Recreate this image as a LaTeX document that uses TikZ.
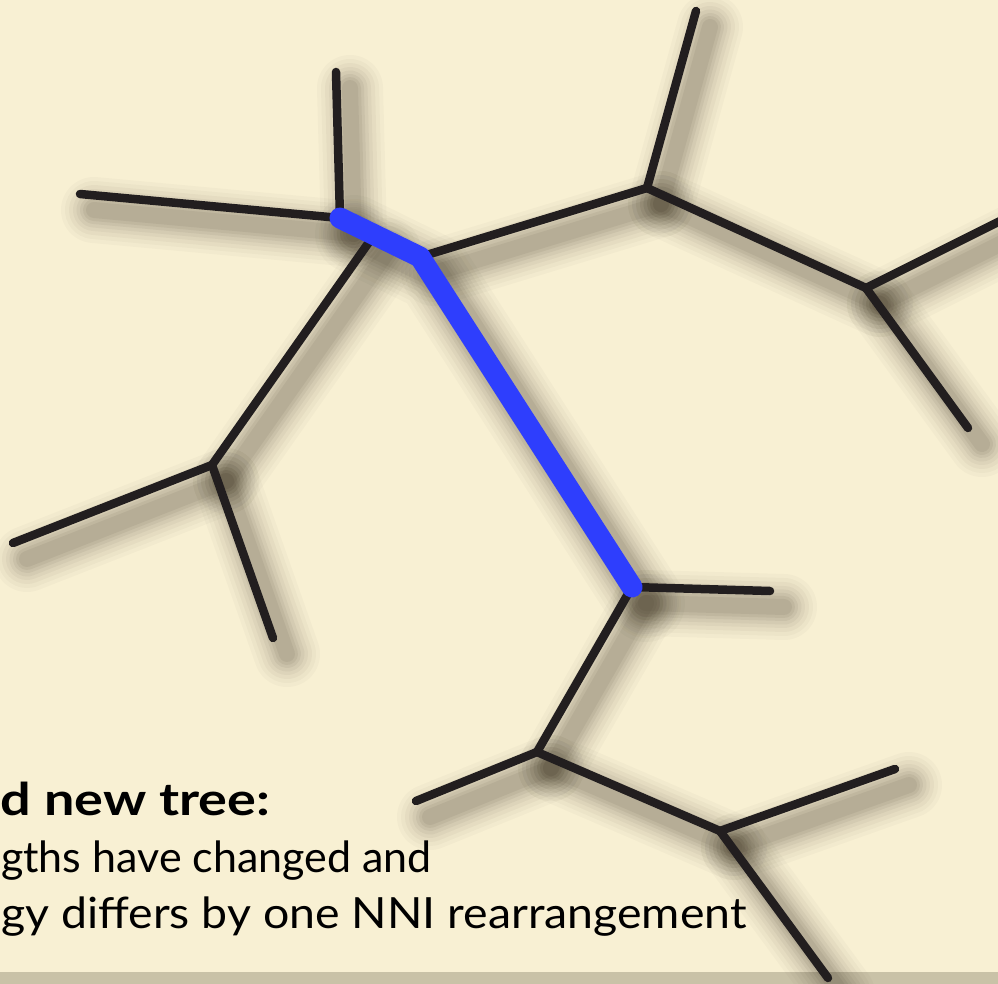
\documentclass[tikz,border=0pt]{standalone}
\usepackage{fontspec}
\setmainfont{Lato}
\definecolor{bg}{HTML}{F8F0D3}
\definecolor{strip}{HTML}{C9C2A7}
\definecolor{ink}{HTML}{221E1F}
\definecolor{treeblue}{HTML}{2E3EFD}
\definecolor{shade}{HTML}{3A3020}
\begin{document}
\begin{tikzpicture}[x=1pt,y=-1pt,
  edge/.style={line width=8.5pt, line cap=round, draw=ink},
  hl/.style={line width=21pt, line cap=round, line join=round, draw=treeblue},
  shadowline/.style={line cap=round, line join=round, draw=shade},
  caption/.style={anchor=base west, inner sep=0pt, text=black, font=\fontsize{43}{50}\selectfont}]
\useasboundingbox (0,0) rectangle (998,984);
\clip (0,0) rectangle (998,984);
\fill[bg] (0,0) rectangle (998,984);
\fill[strip] (0,972) rectangle (998,984);
% tree points
\coordinate (A) at (340,218);
\coordinate (A1) at (80,194);
\coordinate (A2) at (336,72);
\coordinate (B) at (420,257);
\coordinate (M) at (374,235);
\coordinate (C) at (212,465);
\coordinate (C1) at (13,543);
\coordinate (C2) at (273,638);
\coordinate (D) at (647,188);
\coordinate (D1) at (696,11);
\coordinate (E) at (866,288);
\coordinate (E1) at (1012,215);
\coordinate (E2) at (968,428);
\coordinate (F) at (632,587);
\coordinate (F1) at (770,591);
\coordinate (G) at (537,752);
\coordinate (G1) at (416,801);
\coordinate (H) at (720,831);
\coordinate (H1) at (895,769);
\coordinate (H2) at (828,978);
% soft shadows
\begin{scope}[transform canvas={shift={(14pt,-16pt)}}]
\foreach \w/\o in {66/0.028,58/0.033,50/0.038,42/0.045,35/0.05,28/0.058,22/0.065,16/0.07}{
  \foreach \a/\b in {A/A1,A/A2,M/C,C/C1,C/C2,B/D,D/D1,D/E,E/E1,E/E2,F/F1,F/G,G/G1,G/H,H/H1,H/H2}
    \draw[shadowline, line width=\w pt, opacity=\o] (\a) -- (\b);
  \draw[shadowline, line width=\w pt+12pt, opacity=\o] (A) -- (B) -- (F);
}
\end{scope}
% edges
\foreach \a/\b in {A/A1,A/A2,M/C,C/C1,C/C2,B/D,D/D1,D/E,E/E1,E/E2,F/F1,F/G,G/G1,G/H,H/H1,H/H2}
  \draw[edge] (\a) -- (\b);
\draw[hl] (A) -- (B) -- (F);
% caption
\node[caption, font=\fontsize{45}{50}\selectfont\bfseries, xscale=1.2] (t1) at (0,815) {d new tree:};
\node[caption, xscale=1.0] (t2) at (1,872) {gths have changed and};
\node[caption, xscale=1.08] (t3) at (1,928) {gy differs by one NNI rearrangement};
\end{tikzpicture}
\end{document}
